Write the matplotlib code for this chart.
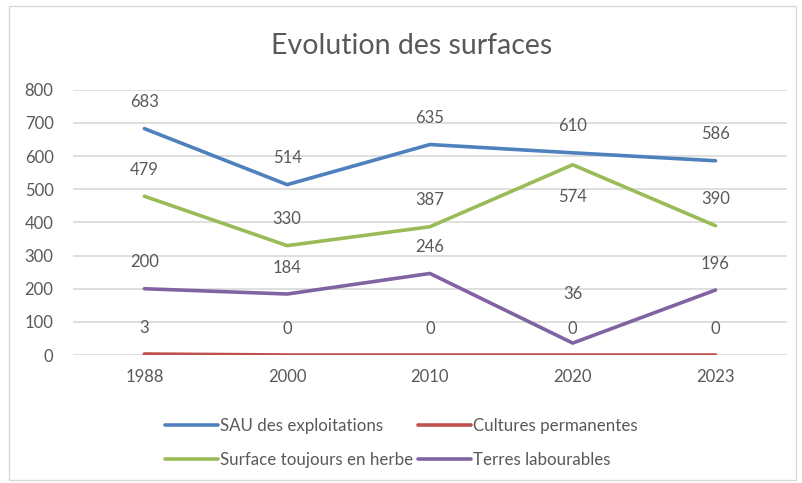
import matplotlib.pyplot as plt
from matplotlib.patches import Rectangle

# donnees
annees = ['1988', '2000', '2010', '2020', '2023']
sau = [683, 514, 635, 610, 586]
cultures = [3, 0, 0, 0, 0]
herbe = [479, 330, 387, 574, 390]
terres = [200, 184, 246, 36, 196]

plt.rcParams['font.family'] = ['Lato', 'DejaVu Sans']
gris = '#595959'

fig = plt.figure(figsize=(8.03, 4.83), dpi=100)
ax = fig.add_axes([0.0909, 0.265, 0.889, 0.549])

# cadre du graphique
fig.patches.append(Rectangle((0.011, 0.006), 0.98, 0.982, transform=fig.transFigure,
                             fill=False, edgecolor='#D9D9D9', linewidth=1))

x = list(range(len(annees)))
series = [
    ('SAU des exploitations', sau, '#4F81BD'),
    ('Cultures permanentes', cultures, '#C0504D'),
    ('Surface toujours en herbe', herbe, '#9BBB59'),
    ('Terres labourables', terres, '#8064A2'),
]
lignes = {}
for nom, vals, coul in series:
    l, = ax.plot(x, vals, color=coul, linewidth=2.6, solid_capstyle='round', label=nom)
    lignes[nom] = l
    for i, v in enumerate(vals):
        dy = 19
        # etiquettes deplacees a la main dans l'original
        if nom == 'Surface toujours en herbe' and i == 3:
            dy = -23
        if nom == 'Terres labourables' and i == 3:
            dy = 35
        ax.annotate(str(v), (i, v), xytext=(0, dy), textcoords='offset points',
                    ha='center', va='center', fontsize=12, color=gris)

ax.set_xlim(-0.5, 4.5)
ax.set_ylim(0, 800)
ax.set_yticks(range(0, 801, 100))
ax.set_xticks(x)
ax.set_xticklabels(annees)
ax.tick_params(length=0, labelsize=12, colors=gris)
ax.tick_params(axis='y', pad=14)
ax.tick_params(axis='x', pad=10)
ax.grid(axis='y', color='#D9D9D9', linewidth=1.2)
ax.set_axisbelow(True)
for s in ax.spines.values():
    s.set_visible(False)

fig.text(0.512, 0.905, 'Evolution des surfaces', ha='center', va='center',
         fontsize=20.5, color=gris)

ordre = ['SAU des exploitations', 'Surface toujours en herbe',
         'Cultures permanentes', 'Terres labourables']
fig.legend([lignes[n] for n in ordre], ordre, ncol=2, loc='center',
           bbox_to_anchor=(0.5, 0.083), frameon=False, fontsize=12.2,
           labelcolor=gris, handlelength=3.1, handletextpad=0.15,
           columnspacing=0.3, labelspacing=1.05)

plt.savefig('out.png', dpi=100)
